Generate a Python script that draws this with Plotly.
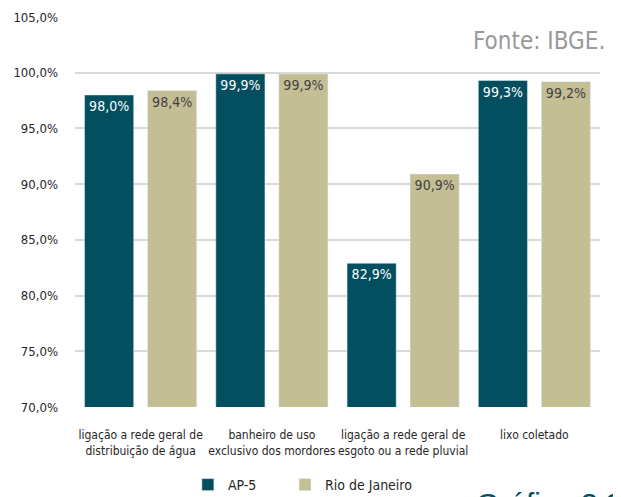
import plotly.graph_objects as go

categories = [
    "ligação a rede geral de<br>distribuição de água",
    "banheiro de uso<br>exclusivo dos mordores",
    "ligação a rede geral de<br>esgoto ou a rede pluvial",
    "lixo coletado<br> ",
]
ap5 = [98.0, 99.9, 82.9, 99.3]
rio = [98.4, 99.9, 90.9, 99.2]
yticks = [70, 75, 80, 85, 90, 95, 100, 105]

FONT = "DejaVu Sans Condensed, Liberation Sans Narrow, sans-serif"
TEAL = "#034F5F"
TAN = "#C4BE95"

fig = go.Figure()
fig.add_trace(go.Bar(
    x=categories, y=ap5, name="AP-5", marker_color=TEAL, legend="legend",
    texttemplate="%{y:.1f}%", textposition="inside", insidetextanchor="end",
    textfont=dict(color="white", size=14, family=FONT), textangle=0,
))
fig.add_trace(go.Bar(
    x=categories, y=rio, name="Rio de Janeiro", marker_color=TAN, legend="legend2",
    texttemplate="%{y:.1f}%", textposition="inside", insidetextanchor="end",
    textfont=dict(color="#404040", size=14, family=FONT), textangle=0,
))

legend_style = dict(orientation="h", xanchor="left", y=-0.2, yanchor="middle",
                    font=dict(size=14, family=FONT, color="#262626"),
                    bgcolor="rgba(0,0,0,0)")

fig.update_layout(
    width=621, height=497,
    margin=dict(l=67, r=29, t=9, b=98, autoexpand=False),
    paper_bgcolor="white", plot_bgcolor="white",
    separators=",.",
    barmode="group", bargap=0.04, bargroupgap=0.22,
    font=dict(family=FONT, color="#262626", size=13),
    showlegend=True,
    legend=dict(x=0.215, **legend_style),
    legend2=dict(x=0.40, **legend_style),
    xaxis=dict(showgrid=False, showline=False, ticks="", tickangle=0,
               automargin=False, ticklabelstandoff=19,
               tickfont=dict(size=12, family=FONT, color="#262626")),
    yaxis=dict(range=[70, 105], tickvals=yticks,
               ticktext=[f"{v:.1f}%".replace(".", ",") for v in yticks],
               showgrid=True, gridcolor="#D9D9D9", gridwidth=1.5,
               zeroline=False, showline=False, ticks="", automargin=False,
               ticklabelstandoff=16,
               tickfont=dict(size=13, family=FONT, color="#262626")),
    annotations=[
        dict(text="Fonte: IBGE.", xref="paper", yref="paper", x=1.0133, y=0.938,
             xanchor="right", yanchor="middle", showarrow=False,
             font=dict(size=24, family=FONT, color="#999999")),
        dict(text="Gráfico 3.3", xref="paper", yref="paper", x=0.76, y=-0.2,
             xanchor="left", yanchor="top", showarrow=False,
             font=dict(size=30, family="Liberation Sans, DejaVu Sans, sans-serif", color=TEAL)),
    ],
)

fig.write_html("out.html")
